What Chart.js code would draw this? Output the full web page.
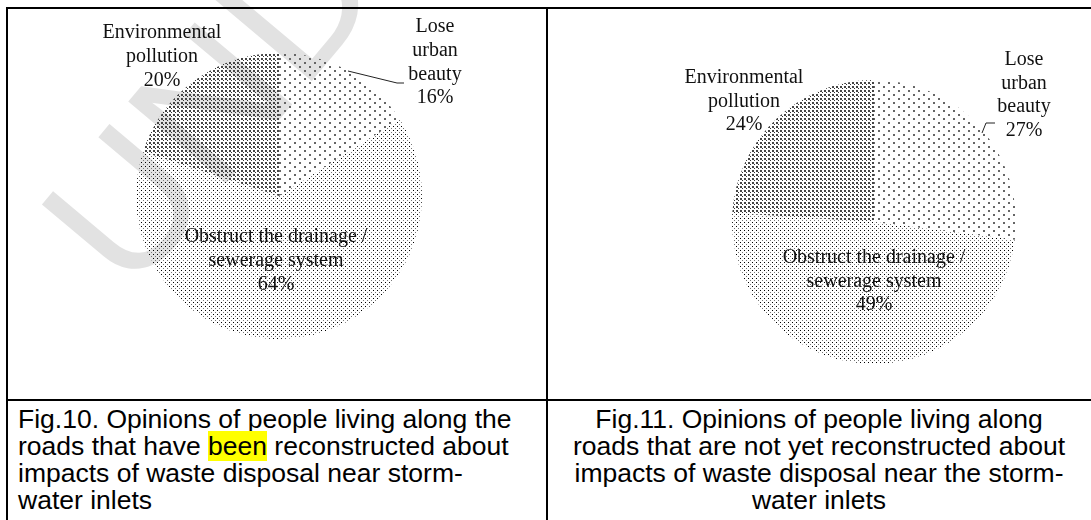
<!DOCTYPE html>
<html>
<head>
<meta charset="utf-8">
<script src="https://cdn.jsdelivr.net/npm/chart.js@4/dist/chart.umd.min.js"></script>
<style>
  body { margin: 0; background: #fff; }
  #page { position: relative; width: 1091px; height: 520px; overflow: hidden; background: #fff; }
  .line { position: absolute; background: #000; }
  .cap { position: absolute; top: 406px; font-family: "Liberation Sans", Arial, sans-serif; font-size: 26.5px; line-height: 27px; color: #000; white-space: nowrap; }
  .hl { background: #ffff00; }
  #wm { position: absolute; left: 0px; top: 188px; transform-origin: 0 0; transform: rotate(-50deg);
        font-family: "Liberation Sans", Arial, sans-serif; font-size: 185px; color: #e2e2e2; white-space: nowrap; }
  canvas { position: absolute; }
</style>
</head>
<body>
<div id="page">
  <div id="wm">UNDER REVIEW</div>
  <canvas id="fig10" width="537" height="389" style="left:9px; top:10px;"></canvas>
  <canvas id="fig11" width="543" height="389" style="left:548px; top:10px;"></canvas>

  <div class="line" style="left:6px; top:7px; width:1085px; height:2px;"></div>
  <div class="line" style="left:6px; top:7px; width:2px; height:513px;"></div>
  <div class="line" style="left:546px; top:7px; width:2px; height:513px;"></div>
  <div class="line" style="left:6px; top:399px; width:1085px; height:2px;"></div>

  <div class="cap" style="left:18px;">Fig.10. Opinions of people living along the<br>roads that have <span class="hl">been</span> reconstructed about<br>impacts of waste disposal near storm-<br>water inlets</div>
  <div class="cap" style="left:548px; width:542px; text-align:center;">Fig.11. Opinions of people living along<br>roads that are not yet reconstructed about<br>impacts of waste disposal near the storm-<br>water inlets</div>
</div>
<script>
// data
const categories = ['Lose urban beauty', 'Obstruct the drainage / sewerage system', 'Environmental pollution'];
const fig10Values = [16, 64, 20];
const fig11Values = [27, 49, 24];

// label text lines per slice (same order as categories)
const labelLines = [
  ['Lose', 'urban', 'beauty'],
  ['Obstruct the drainage /', 'sewerage system'],
  ['Environmental', 'pollution']
];

// dotted fills like the printed halftones
function dotPattern(w, h, dots) {
  const c = document.createElement('canvas');
  c.width = w; c.height = h;
  const g = c.getContext('2d');
  dots.forEach(d => { g.fillStyle = d[4]; g.fillRect(d[0], d[1], d[2], d[3]); });
  return g.createPattern(c, 'repeat');
}
function fills() {
  return [
    // lose urban beauty, sparse
    dotPattern(10, 8, [[0, 0, 2, 2, '#666'], [5, 4, 2, 2, '#666']]),
    // obstruct, fine
    dotPattern(4, 4, [[0, 0, 1, 1, '#000'], [2, 2, 1, 1, '#777']]),
    // environmental pollution, dense
    dotPattern(4, 4, [[0, 0, 2, 2, '#444'], [2, 2, 1, 1, '#333']])
  ];
}

// label positions relative to the pie centre, and leader lines
const fig10Labels = { offsets: [[156, -169], [-3, 41], [-117, -163]], lh: 23.7,
  leader: [[69, -125], [118, -113], [125, -113]] };
const fig11Labels = { offsets: [[150, -162], [0, 36], [-130, -144]], lh: 23.5,
  leader: [[108, -89], [112, -99], [121, -99]] };

const pieLabels = {
  id: 'pieLabels',
  afterDatasetsDraw(chart, args, opts) {
    const ctx = chart.ctx;
    const arc = chart.getDatasetMeta(0).data[0];
    const cx = arc.x, cy = arc.y;
    const vals = chart.data.datasets[0].data;
    ctx.save();
    ctx.fillStyle = '#111';
    ctx.font = '20px "Liberation Serif", "Times New Roman", serif';
    ctx.textAlign = 'center';
    ctx.textBaseline = 'middle';
    vals.forEach((v, i) => {
      const lines = labelLines[i].concat([v + '%']);
      const o = opts.offsets[i];
      lines.forEach((t, j) => ctx.fillText(t, cx + o[0], cy + o[1] + j * opts.lh));
    });
    ctx.strokeStyle = '#222';
    ctx.lineWidth = 1;
    ctx.beginPath();
    opts.leader.forEach((p, j) => {
      if (j === 0) ctx.moveTo(cx + p[0], cy + p[1]);
      else ctx.lineTo(cx + p[0], cy + p[1]);
    });
    ctx.stroke();
    ctx.restore();
  }
};

function makePie(id, values, padding, labelOpts) {
  const el = document.getElementById(id);
  return new Chart(el, {
    type: 'pie',
    data: {
      labels: categories,
      datasets: [{ data: values, backgroundColor: fills(), borderWidth: 0 }]
    },
    options: {
      responsive: false,
      animation: false,
      layout: { padding: padding },
      plugins: {
        legend: { display: false },
        tooltip: { enabled: false },
        pieLabels: labelOpts
      }
    },
    plugins: [pieLabels]
  });
}

makePie('fig10', fig10Values, { left: 127, right: 124, top: 43, bottom: 60 }, fig10Labels);
makePie('fig11', fig11Values, { left: 184, right: 75, top: 70, bottom: 35 }, fig11Labels);
</script>
</body>
</html>
